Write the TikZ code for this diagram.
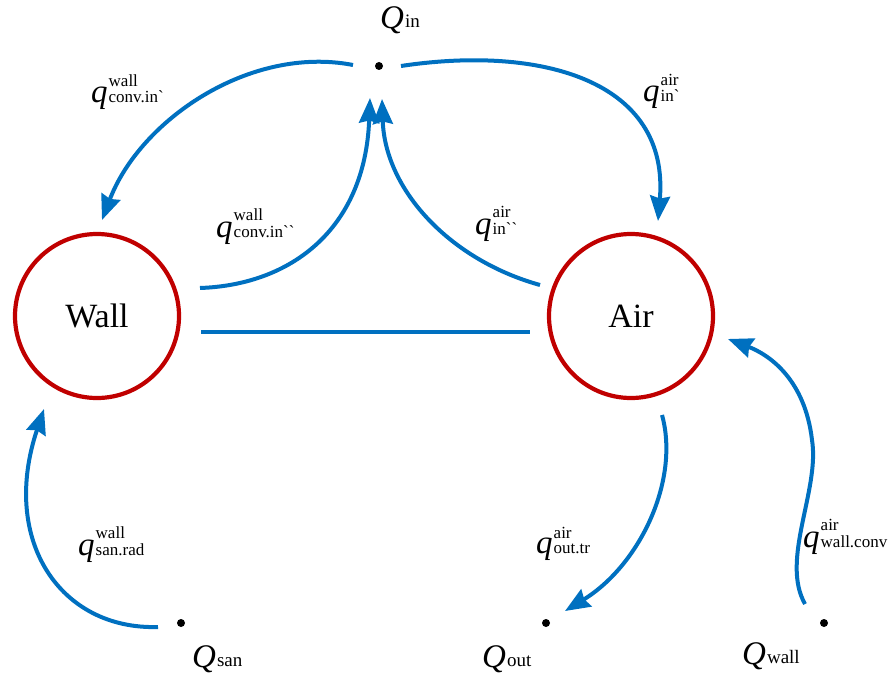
\documentclass[tikz,border=0pt]{standalone}
\usepackage{fontspec}
\setmainfont{Liberation Serif}
\usetikzlibrary{arrows.meta}
\definecolor{myblue}{HTML}{0070C0}
\definecolor{myred}{HTML}{C00000}
\newcommand\qlab[2]{{\fontsize{33}{33}\selectfont\textit{q}}\kern1pt{\fontsize{17}{15}\selectfont\renewcommand\arraystretch{1}\begin{tabular}[b]{@{}l@{}}#1\\#2\end{tabular}}}
\newcommand\Qlab[1]{{\fontsize{33}{33}\selectfont\textit{Q}}\kern1pt{\fontsize{19}{19}\selectfont\raisebox{1pt}{#1}}}
\tikzset{
  state/.style={circle, draw=myred, line width=4.2pt, minimum size=164pt, inner sep=0pt, font=\fontsize{34}{34}\selectfont},
  lbl/.style={anchor=base west, inner sep=0pt},
  dotnode/.style={circle, fill=black, minimum size=8pt, inner sep=0pt},
  flow/.style={draw=myblue, line width=4pt, -{Stealth[length=25pt,width=20pt,inset=2.5pt]}},
  link/.style={draw=myblue, line width=4.5pt},
}
\begin{document}
\begin{tikzpicture}[x=1pt,y=-1pt]
\useasboundingbox (0,0) rectangle (890,676);
% states
\node[state] (wall) at (97,316) {Wall};
\node[state] (air) at (631,316) {Air};
% source / sink dots
\node[dotnode] (din) at (379,66) {};
\node[dotnode] (dsan) at (181,623) {};
\node[dotnode] (dout) at (546,623) {};
\node[dotnode] (dwall) at (824,623) {};
% Q labels
\node[lbl] (Qin) at (380,29) {\Qlab{in}};
\node[lbl] (Qsan) at (192,667) {\Qlab{san}};
\node[lbl] (Qout) at (482,667) {\Qlab{out}};
\node[lbl] (Qwall) at (742,664) {\Qlab{wall}};
% q labels
\node[lbl] (q1) at (91,103) {\qlab{wall}{conv.in\textasciigrave}};
\node[lbl] (q2) at (216,237) {\qlab{wall}{conv.in\textasciigrave\textasciigrave}};
\node[lbl] (q3) at (475,234) {\qlab{air}{in\textasciigrave\textasciigrave}};
\node[lbl] (q4) at (643,102) {\qlab{air}{in\textasciigrave}};
\node[lbl] (q5) at (78,555) {\qlab{wall}{san.rad}};
\node[lbl] (q6) at (536,553) {\qlab{air}{out.tr}};
\node[lbl] (q7) at (803,547) {\qlab{air}{wall.conv}};
% connector end points
\coordinate (a1s) at (353,65);
\coordinate (a1e) at (102,220);
\coordinate (a2s) at (200,288);
\coordinate (a2e) at (370,98);
\coordinate (a3s) at (540,285);
\coordinate (a3e) at (382,99);
\coordinate (a4s) at (401,66);
\coordinate (a4e) at (658,221);
\coordinate (a5s) at (662,415);
\coordinate (a5e) at (565,611);
\coordinate (a6s) at (805,604);
\coordinate (a6m) at (812,440);
\coordinate (a6e) at (728,339);
\coordinate (a7s) at (158,627);
\coordinate (a7e) at (44,409);
\coordinate (ls) at (201,332);
\coordinate (le) at (530,332);
% connectors
\draw[link] (ls) -- (le);
\draw[flow] (a1s) .. controls (250,45) and (140,120) .. (a1e);
\draw[flow] (a2s) .. controls (290,285) and (365,230) .. (a2e);
\draw[flow] (a3s) .. controls (450,260) and (385,190) .. (a3e);
\draw[flow] (a4s) .. controls (540,45) and (670,80) .. (a4e);
\draw[flow] (a5s) .. controls (680,480) and (640,565) .. (a5e);
\draw[flow] (a6s) .. controls (780,560) and (820,490) .. (a6m) .. controls (805,380) and (770,355) .. (a6e);
\draw[flow] (a7s) .. controls (60,630) and (0,540) .. (a7e);
\end{tikzpicture}
\end{document}
